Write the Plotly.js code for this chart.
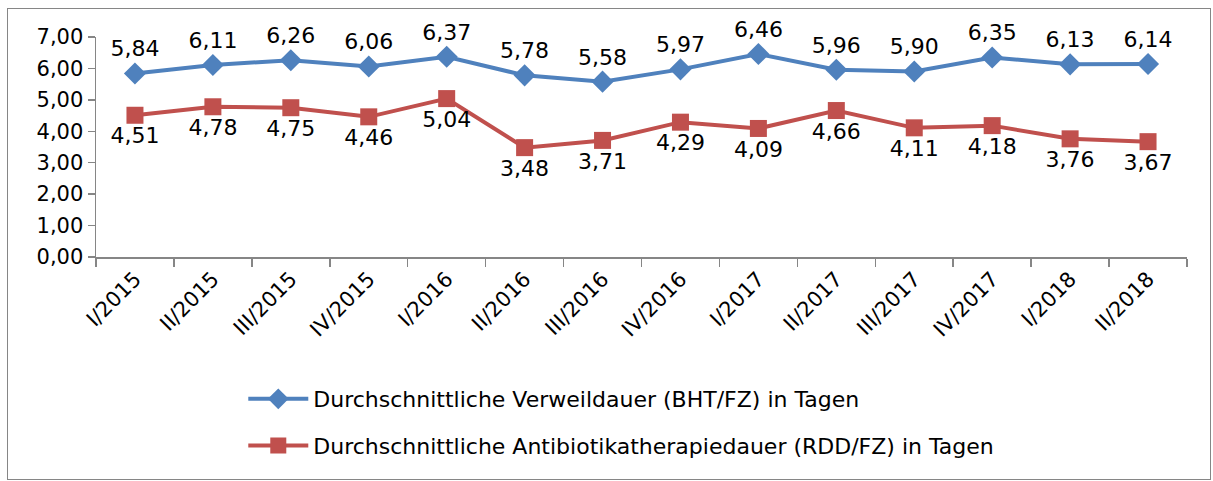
<!DOCTYPE html>
<html>
<head>
<meta charset="utf-8">
<script src="https://cdn.plot.ly/plotly-3.0.1.min.js"></script>
<style>
html,body{margin:0;padding:0;background:#fff;}
#chart{width:1213px;height:481px;}
#frame{position:absolute;left:7px;top:8px;width:1202px;height:470px;border:1px solid #868686;pointer-events:none;}
</style>
</head>
<body>
<div id="chart"></div>
<div id="frame"></div>
<script>
const categories = ["I/2015","II/2015","III/2015","IV/2015","I/2016","II/2016","III/2016","IV/2016","I/2017","II/2017","III/2017","IV/2017","I/2018","II/2018"];
const verweildauer = [5.84,6.11,6.26,6.06,6.37,5.78,5.58,5.97,6.46,5.96,5.90,6.35,6.13,6.14];
const antibiotika = [4.51,4.78,4.75,4.46,5.04,3.48,3.71,4.29,4.09,4.66,4.11,4.18,3.76,3.67];
const seriesNames = ["Durchschnittliche Verweildauer (BHT/FZ) in Tagen","Durchschnittliche Antibiotikatherapiedauer (RDD/FZ) in Tagen"];

const FONT = "DejaVu Sans, sans-serif";
const traces = [
  {x: categories, y: verweildauer, name: seriesNames[0], type: "scatter", mode: "lines+markers+text",
   line: {color: "#4F81BD", width: 4}, marker: {symbol: "diamond", size: 17, color: "#4F81BD"},
   texttemplate: "%{y:.2f}", textposition: "top center", textfont: {family: FONT, size: 22, color: "#000"},
   legendgroup: "a", cliponaxis: false},
  {x: categories, y: antibiotika, name: seriesNames[1], type: "scatter", mode: "lines+markers+text",
   line: {color: "#C0504D", width: 4}, marker: {symbol: "square", size: 17, color: "#C0504D"},
   texttemplate: "%{y:.2f}", textposition: "bottom center", textfont: {family: FONT, size: 22, color: "#000"},
   legendgroup: "b", cliponaxis: false}
];
const layout = {
  width: 1213, height: 481,
  margin: {l: 96, r: 26, t: 37, b: 224},
  separators: ",.",
  paper_bgcolor: "#fff", plot_bgcolor: "#fff",
  font: {family: FONT, size: 22, color: "#000"},
  showlegend: true,
  xaxis: {type: "category", range: [-0.5, 13.5], tickangle: -45, showline: true, linecolor: "#868686", linewidth: 1.5,
    ticks: "outside", tickson: "boundaries", ticklen: 8, tickcolor: "#868686", tickwidth: 1.5,
    showgrid: false, zeroline: false, tickfont: {family: FONT, size: 21, color: "#000"}},
  yaxis: {range: [0, 7], dtick: 1, tickformat: ".2f", showline: true, linecolor: "#868686", linewidth: 1.5,
    ticks: "outside", ticklen: 7, tickcolor: "#868686", tickwidth: 1.5, showgrid: false, zeroline: false,
    tickfont: {family: FONT, size: 21, color: "#000"}},
  legend: {x: 0.135, xanchor: "left", y: -0.55, yanchor: "top", orientation: "v", tracegroupgap: 15,
    itemwidth: 60, font: {family: FONT, size: 22, color: "#000"}, bgcolor: "rgba(0,0,0,0)"}
};
Plotly.newPlot("chart", traces, layout, {displayModeBar: false, staticPlot: true});
</script>
</body>
</html>
